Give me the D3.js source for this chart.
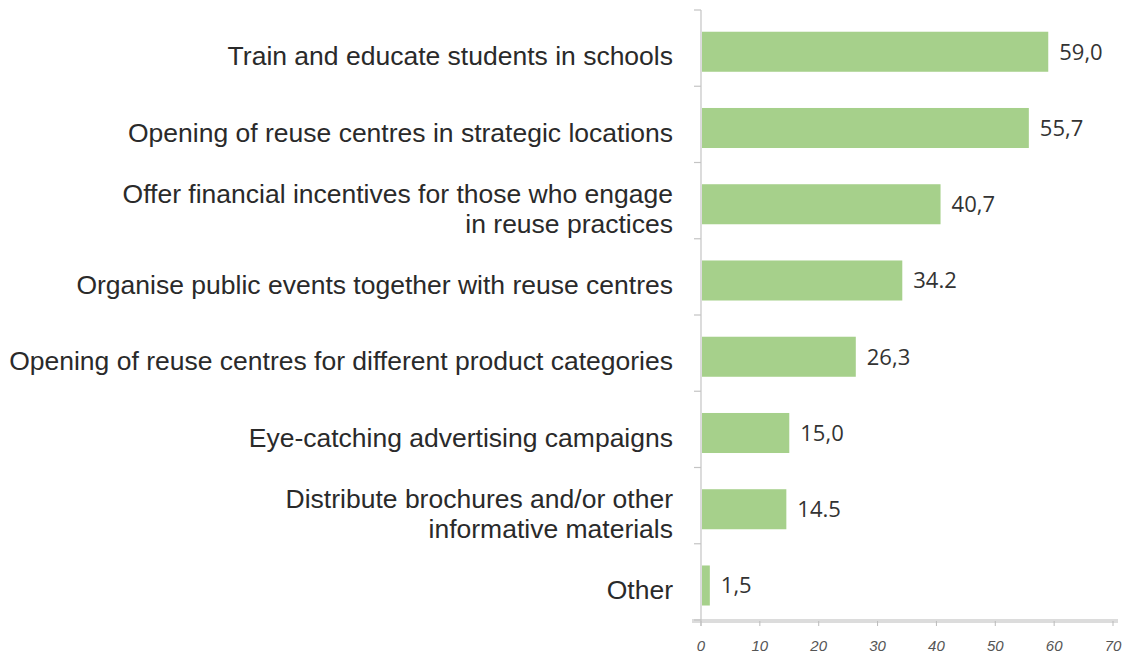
<!DOCTYPE html>
<html><head><meta charset="utf-8">
<script src="https://cdn.jsdelivr.net/npm/d3@7/dist/d3.min.js"></script>
<style>body{margin:0;background:#fff}svg{display:block}</style>
</head><body>
<script>
const categories = [
  ["Train and educate students in schools"],
  ["Opening of reuse centres in strategic locations"],
  ["Offer financial incentives for those who engage", "in reuse practices"],
  ["Organise public events together with reuse centres"],
  ["Opening of reuse centres for different product categories"],
  ["Eye-catching advertising campaigns"],
  ["Distribute brochures and/or other", "informative materials"],
  ["Other"]
];
const values = [59.0, 55.7, 40.7, 34.2, 26.3, 15.0, 14.5, 1.5];
const valueLabels = ["59,0", "55,7", "40,7", "34.2", "26,3", "15,0", "14.5", "1,5"];
const xTicks = [0, 10, 20, 30, 40, 50, 60, 70];

const W = 1127, H = 657;
const svg = d3.select("body").append("svg").attr("width", W).attr("height", H);

const x = d3.scaleLinear().domain([0, 70]).range([701, 1113]);
const ids = categories.map((c, i) => i);
const y = d3.scaleBand().domain(ids).range([10, 620])
  .paddingInner(0.475).paddingOuter(0.2375).align(0.6);
const step = y.step();

// horizontal axis
const axisY = 621;
svg.append("line").attr("x1", 692).attr("x2", 1118).attr("y1", axisY).attr("y2", axisY)
  .attr("stroke", "#dcdcdc").attr("stroke-width", 4);
const xAxis = svg.append("g");
xAxis.selectAll("line.t").data(xTicks).join("line")
  .attr("x1", d => x(d)).attr("x2", d => x(d))
  .attr("y1", axisY).attr("y2", axisY + 5)
  .attr("stroke", "#bbb").attr("stroke-width", 1);
xAxis.selectAll("text").data(xTicks).join("text")
  .attr("x", d => x(d)).attr("y", 651)
  .attr("text-anchor", "middle")
  .attr("font-family", "Liberation Sans, Arial, sans-serif")
  .attr("font-style", "italic")
  .attr("font-size", 15)
  .attr("fill", "#555")
  .text(d => d);

// vertical axis
svg.append("line").attr("x1", x(0)).attr("x2", x(0)).attr("y1", 10).attr("y2", 626)
  .attr("stroke", "#c4c4c4").attr("stroke-width", 1.2);
svg.selectAll("line.yt").data(d3.range(categories.length + 1)).join("line")
  .attr("class", "yt")
  .attr("x1", x(0) - 7).attr("x2", x(0))
  .attr("y1", i => 10 + i * step).attr("y2", i => 10 + i * step)
  .attr("stroke", "#c4c4c4").attr("stroke-width", 1.2);

// bars
svg.selectAll("rect.bar").data(values).join("rect")
  .attr("class", "bar")
  .attr("x", x(0) + 1)
  .attr("y", (d, i) => y(i))
  .attr("width", d => x(d) - x(0) - 1)
  .attr("height", y.bandwidth())
  .attr("fill", "#a6d08b");

// value labels
svg.selectAll("text.val").data(values).join("text")
  .attr("class", "val")
  .attr("x", d => x(d) + 11)
  .attr("y", (d, i) => y(i) + y.bandwidth() / 2)
  .attr("dy", "0.36em")
  .attr("font-family", "Open Sans, sans-serif")
  .attr("font-size", 22)
  .attr("fill", "#333")
  .text((d, i) => valueLabels[i]);

// category labels
const lab = svg.selectAll("text.cat").data(categories).join("text")
  .attr("class", "cat")
  .attr("text-anchor", "end")
  .attr("font-family", "Liberation Sans, Arial, sans-serif")
  .attr("font-size", 26.5)
  .attr("fill", "#2a2a2a");
lab.each(function(lines, i) {
  const cy = y(i) + y.bandwidth() / 2 + 4;
  const lh = 30;
  d3.select(this).selectAll("tspan").data(lines).join("tspan")
    .attr("x", 673)
    .attr("y", (l, j) => cy + (j - (lines.length - 1) / 2) * lh)
    .attr("dy", "0.36em")
    .text(l => l);
});
</script>
</body></html>
